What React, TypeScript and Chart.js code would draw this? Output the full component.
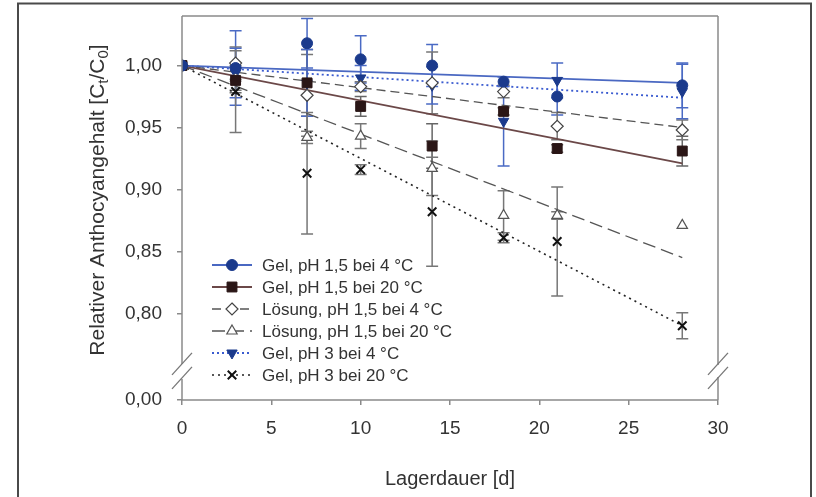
import React, { useEffect, useRef } from 'react';
import { Chart, registerables } from 'chart.js';

Chart.register(...registerables);

const FONT = '"Liberation Sans", Arial, sans-serif';

// ---- data ----
const days = [0, 3, 7, 10, 14, 18, 21, 28];

const seriesLabels = [
  'Gel, pH 1,5 bei 4 °C',
  'Gel, pH 1,5 bei 20 °C',
  'Lösung, pH 1,5 bei 4 °C',
  'Lösung, pH 1,5 bei 20 °C',
  'Gel, pH 3 bei 4 °C',
  'Gel, pH 3 bei 20 °C',
];

const gelPh15At4 = [1.0, 0.998, 1.018, 1.005, 1.0, 0.987, 0.975, 0.984];
const gelPh15At4Err = [0, 0.03, 0.02, 0.019, 0.017, 0.004, 0.015, 0.018];

const gelPh15At20 = [1.0, 0.988, 0.986, 0.967, 0.935, 0.963, 0.933, 0.931];
const gelPh15At20Err = [0, 0.01, 0.027, 0.008, 0.018, 0.003, 0.003, 0.012];

const loesungPh15At4 = [1.0, 1.002, 0.976, 0.983, 0.986, 0.979, 0.951, 0.948];
const loesungPh15At4Err = [0, 0.013, 0.033, 0.004, 0.025, 0.005, 0.011, 0.008];

const loesungPh15At20 = [1.0, 0.99, 0.942, 0.943, 0.917, 0.879, 0.879, 0.871];
const loesungPh15At20Err = [0, 0.01, 0.005, 0.01, 0.022, 0.02, 0.003, 0];

const gelPh3At4 = [1.0, 0.994, 0.986, 0.99, 0.984, 0.955, 0.988, 0.979];
const gelPh3At4Err = [0, 0.02, 0.027, 0.01, 0.015, 0.036, 0.014, 0.022];

const gelPh3At20 = [1.0, 0.979, 0.913, 0.916, 0.882, 0.861, 0.858, 0.79];
const gelPh3At20Err = [0, 0.033, 0.049, 0.004, 0.044, 0.004, 0.044, 0.0105];

// regression lines (read at day 0 and day 28)
const trendDays = [0, 28];
const trendStart = [1.0, 1.0, 1.0, 1.0, 1.0, 1.0];
const trendEnd = [0.986, 0.921, 0.95, 0.845, 0.974, 0.79];

const xTicks = [0, 5, 10, 15, 20, 25, 30];
const yTicks = [0.73, 0.8, 0.85, 0.9, 0.95, 1.0];
const yTickLabels = ['0,00', '0,80', '0,85', '0,90', '0,95', '1,00'];
const yMin = 0.73;
const yMax = 1.04;
const breakValue = 0.7535;

const xTitle = 'Lagerdauer [d]';
const yTitleParts = [
  { t: 'Relativer Anthocyangehalt [C', sub: false },
  { t: 't', sub: true },
  { t: '/C', sub: false },
  { t: '0', sub: true },
  { t: ']', sub: false },
];

const seriesValues = [gelPh15At4, gelPh15At20, loesungPh15At4, loesungPh15At20, gelPh3At4, gelPh3At20];
const seriesErrors = [gelPh15At4Err, gelPh15At20Err, loesungPh15At4Err, loesungPh15At20Err, gelPh3At4Err, gelPh3At20Err];

// ---- styles ----
const styles = [
  { point: 'circle', rot: 0, r: 5.5, fill: '#1b3a8c', stroke: '#1b3a8c', pw: 1, line: '#4a68c2', lw: 1.8, dash: [] as number[], err: '#4a6ac4' },
  { point: 'rect', rot: 0, r: 7, fill: '#2a1616', stroke: '#2a1616', pw: 1, line: '#6b4848', lw: 1.8, dash: [] as number[], err: '#666666' },
  { point: 'rectRot', rot: 0, r: 6, fill: '#ffffff', stroke: '#444444', pw: 1.2, line: '#555555', lw: 1.3, dash: [9, 5], err: '#777777' },
  { point: 'triangle', rot: 0, r: 6, fill: '#ffffff', stroke: '#555555', pw: 1.2, line: '#555555', lw: 1.3, dash: [13, 6], err: '#777777' },
  { point: 'triangle', rot: 180, r: 6, fill: '#1b3a8c', stroke: '#1b3a8c', pw: 1, line: '#3a5bd0', lw: 1.8, dash: [2, 3], err: '#4a6ac4' },
  { point: 'crossRot', rot: 0, r: 6, fill: '#111111', stroke: '#111111', pw: 2, line: '#222222', lw: 1.6, dash: [2, 4], err: '#777777' },
];

function drawMarker(ctx: CanvasRenderingContext2D, s: any, x: number, y: number) {
  const r = s.r;
  ctx.save();
  ctx.setLineDash([]);
  ctx.fillStyle = s.fill;
  ctx.strokeStyle = s.stroke;
  ctx.lineWidth = s.pw;
  ctx.beginPath();
  if (s.point === 'circle') {
    ctx.arc(x, y, r, 0, Math.PI * 2);
    ctx.fill();
    ctx.stroke();
  } else if (s.point === 'rect') {
    const h = r * Math.SQRT1_2;
    ctx.rect(x - h, y - h, 2 * h, 2 * h);
    ctx.fill();
    ctx.stroke();
  } else if (s.point === 'rectRot') {
    ctx.moveTo(x, y - r);
    ctx.lineTo(x + r, y);
    ctx.lineTo(x, y + r);
    ctx.lineTo(x - r, y);
    ctx.closePath();
    ctx.fill();
    ctx.stroke();
  } else if (s.point === 'triangle') {
    let rad = (s.rot * Math.PI) / 180;
    ctx.moveTo(x + Math.sin(rad) * r, y - Math.cos(rad) * r);
    rad += (2 * Math.PI) / 3;
    ctx.lineTo(x + Math.sin(rad) * r, y - Math.cos(rad) * r);
    rad += (2 * Math.PI) / 3;
    ctx.lineTo(x + Math.sin(rad) * r, y - Math.cos(rad) * r);
    ctx.closePath();
    ctx.fill();
    ctx.stroke();
  } else if (s.point === 'crossRot') {
    const h = r * Math.SQRT1_2;
    ctx.moveTo(x - h, y - h);
    ctx.lineTo(x + h, y + h);
    ctx.moveTo(x - h, y + h);
    ctx.lineTo(x + h, y - h);
    ctx.stroke();
  }
  ctx.restore();
}

const errorBarPlugin = {
  id: 'errorBars',
  beforeDatasetsDraw(chart: any) {
    const { ctx, scales } = chart;
    const xs = scales.x;
    const ys = scales.y;
    ctx.save();
    seriesValues.forEach((vals, i) => {
      const errs = seriesErrors[i];
      ctx.strokeStyle = styles[i].err;
      ctx.lineWidth = 1.5;
      ctx.setLineDash([]);
      vals.forEach((v, j) => {
        const e = errs[j];
        if (!e) return;
        const px = xs.getPixelForValue(days[j]);
        const top = ys.getPixelForValue(v + e);
        const bot = ys.getPixelForValue(v - e);
        ctx.beginPath();
        ctx.moveTo(px, top);
        ctx.lineTo(px, bot);
        ctx.moveTo(px - 6, top);
        ctx.lineTo(px + 6, top);
        ctx.moveTo(px - 6, bot);
        ctx.lineTo(px + 6, bot);
        ctx.stroke();
      });
    });
    ctx.restore();
  },
};

const framePlugin = {
  id: 'frame',
  afterDraw(chart: any) {
    const { ctx, chartArea, scales } = chart;
    const { left, right, top, bottom } = chartArea;
    const by = scales.y.getPixelForValue(breakValue);
    ctx.save();
    ctx.setLineDash([]);
    // plot box
    ctx.strokeStyle = '#8a8a8a';
    ctx.lineWidth = 1.5;
    ctx.beginPath();
    ctx.moveTo(left, top);
    ctx.lineTo(right, top);
    ctx.moveTo(left, top);
    ctx.lineTo(left, by - 7);
    ctx.moveTo(left, by + 8);
    ctx.lineTo(left, bottom);
    ctx.lineTo(right, bottom);
    ctx.moveTo(right, top);
    ctx.lineTo(right, by - 6);
    ctx.moveTo(right, by + 6);
    ctx.lineTo(right, bottom);
    ctx.stroke();
    // break marks
    ctx.lineWidth = 1.3;
    ctx.strokeStyle = '#777777';
    [left, right].forEach((ax) => {
      [by - 7, by + 7].forEach((cy) => {
        ctx.beginPath();
        ctx.moveTo(ax - 10, cy + 11);
        ctx.lineTo(ax + 10, cy - 11);
        ctx.stroke();
      });
    });
    // outer frame
    ctx.strokeStyle = '#4a4a4a';
    ctx.lineWidth = 2;
    ctx.beginPath();
    ctx.moveTo(18, 497);
    ctx.lineTo(18, 3.5);
    ctx.lineTo(811, 3.5);
    ctx.lineTo(811, 497);
    ctx.stroke();
    ctx.restore();
  },
};

const yTitlePlugin = {
  id: 'yTitle',
  afterDraw(chart: any) {
    const ctx = chart.ctx;
    const size = 21;
    const subSize = 15;
    ctx.save();
    let total = 0;
    const widths = yTitleParts.map((p) => {
      ctx.font = `${p.sub ? subSize : size}px ${FONT}`;
      const w = ctx.measureText(p.t).width;
      total += w;
      return w;
    });
    ctx.translate(104, 200);
    ctx.rotate(-Math.PI / 2);
    ctx.fillStyle = '#333333';
    ctx.textAlign = 'left';
    ctx.textBaseline = 'alphabetic';
    let cx = -total / 2;
    yTitleParts.forEach((p, i) => {
      ctx.font = `${p.sub ? subSize : size}px ${FONT}`;
      ctx.fillText(p.t, cx, p.sub ? 4 : 0);
      cx += widths[i];
    });
    ctx.restore();
  },
};

const legendPlugin = {
  id: 'customLegend',
  afterDraw(chart: any) {
    const ctx = chart.ctx;
    const x0 = 212;
    const x1 = 252;
    const tx = 262;
    const y0 = 265;
    const dy = 22;
    ctx.save();
    ctx.font = `17px ${FONT}`;
    ctx.textBaseline = 'middle';
    ctx.textAlign = 'left';
    seriesLabels.forEach((lab, i) => {
      const s = styles[i];
      const y = y0 + i * dy;
      ctx.strokeStyle = s.line;
      ctx.lineWidth = s.lw;
      ctx.setLineDash(s.dash);
      ctx.beginPath();
      ctx.moveTo(x0, y);
      ctx.lineTo(x1, y);
      ctx.stroke();
      ctx.setLineDash([]);
      drawMarker(ctx, s, (x0 + x1) / 2, y);
      ctx.fillStyle = '#333333';
      ctx.fillText(lab, tx, y + 1);
    });
    ctx.restore();
  },
};

export default function App() {
  const ref = useRef<HTMLCanvasElement | null>(null);

  useEffect(() => {
    if (!ref.current) return;
    const markerSets = seriesValues.map((vals, i) => ({
      label: seriesLabels[i],
      data: vals.map((v, j) => ({ x: days[j], y: v })),
      showLine: false,
      pointStyle: styles[i].point,
      rotation: styles[i].rot,
      pointRotation: styles[i].rot,
      pointRadius: styles[i].r,
      pointBackgroundColor: styles[i].fill,
      pointBorderColor: styles[i].stroke,
      pointBorderWidth: styles[i].pw,
      order: 0,
    }));
    const trendSets = trendEnd.map((end, i) => ({
      label: seriesLabels[i] + ' (Trend)',
      data: [
        { x: trendDays[0], y: trendStart[i] },
        { x: trendDays[1], y: end },
      ],
      showLine: true,
      borderColor: styles[i].line,
      borderWidth: styles[i].lw,
      borderDash: styles[i].dash,
      pointRadius: 0,
      fill: false,
      order: 1,
    }));

    const chart = new Chart(ref.current, {
      type: 'scatter',
      data: { datasets: [...markerSets, ...trendSets] as any },
      options: {
        responsive: false,
        animation: false,
        events: [],
        layout: { padding: { left: 0, top: 16, right: 98, bottom: 0 } },
        plugins: { legend: { display: false }, tooltip: { enabled: false } },
        scales: {
          x: {
            type: 'linear',
            min: 0,
            max: 30,
            afterFit: (s: any) => {
              s.height = 97;
              s.paddingLeft = 0;
              s.paddingRight = 0;
            },
            afterBuildTicks: (s: any) => {
              s.ticks = xTicks.map((v) => ({ value: v }));
            },
            ticks: {
              font: { family: FONT, size: 19 },
              color: '#333333',
              padding: 12,
              maxRotation: 0,
              callback: (v: any) => String(v),
            },
            grid: { drawOnChartArea: false, drawTicks: true, tickLength: 5, color: '#8a8a8a', lineWidth: 1.5 },
            border: { display: false },
            title: {
              display: true,
              text: xTitle,
              font: { family: FONT, size: 20 },
              color: '#333333',
              padding: { top: 0, bottom: 6 },
            },
          },
          y: {
            type: 'linear',
            min: yMin,
            max: yMax,
            afterFit: (s: any) => {
              s.width = 182;
              s.paddingTop = 0;
              s.paddingBottom = 0;
            },
            afterBuildTicks: (s: any) => {
              s.ticks = yTicks.map((v) => ({ value: v }));
            },
            ticks: {
              font: { family: FONT, size: 19 },
              color: '#333333',
              padding: 15,
              callback: (_v: any, idx: number) => yTickLabels[idx],
            },
            grid: { drawOnChartArea: false, drawTicks: true, tickLength: 5, color: '#8a8a8a', lineWidth: 1.5 },
            border: { display: false },
          },
        },
      },
      plugins: [errorBarPlugin, framePlugin, yTitlePlugin, legendPlugin],
    } as any);
    return () => chart.destroy();
  }, []);

  return (
    <div style={{ position: 'fixed', left: 0, top: 0, width: 816, height: 497, background: '#ffffff' }}>
      <canvas ref={ref} width={816} height={497} style={{ display: 'block', width: 816, height: 497 }} />
    </div>
  );
}
